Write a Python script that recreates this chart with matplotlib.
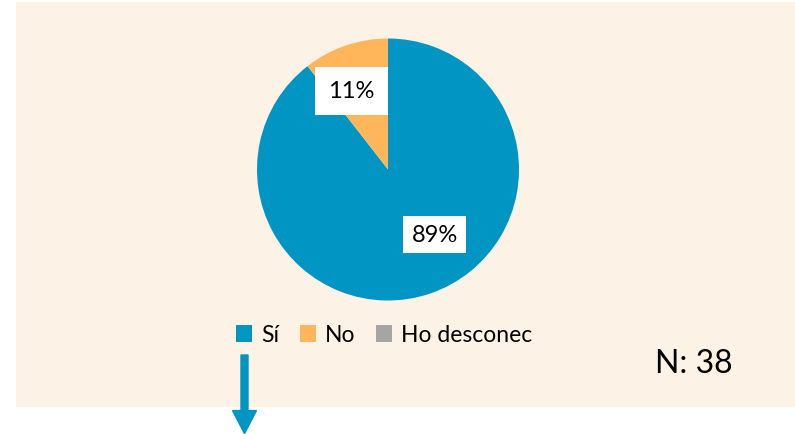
import matplotlib.pyplot as plt
from matplotlib.patches import Rectangle, Patch, FancyArrow

# data
categories = ['Sí', 'No', 'Ho desconec']
counts = [34, 4, 0]
colors = ['#0095C3', '#FFB55A', '#A5A5A5']
n_total = 38

plt.rcParams['font.family'] = ['Lato', 'DejaVu Sans']

W, H = 795, 435
fig = plt.figure(figsize=(W / 100, H / 100), dpi=100)

# beige panel
fig.patches.append(Rectangle((16 / W, 1 - 408 / H), 1 - 16 / W, 405 / H,
                             transform=fig.transFigure, facecolor='#FDF2E6',
                             edgecolor='none', zorder=-5))

cx, cy, r = 388, 170.5, 131
ax = fig.add_axes([(cx - r) / W, 1 - (cy + r) / H, 2 * r / W, 2 * r / H])
ax.set_facecolor('none')
ax.set_zorder(2)

wedges, texts, autotexts = ax.pie(
    counts, colors=colors, startangle=90, counterclock=False,
    autopct=lambda p: '' if p == 0 else '%d%%' % round(p),
    pctdistance=0.65, radius=1,
    textprops=dict(fontsize=17, color='black'))
ax.set_xlim(-1, 1)
ax.set_ylim(-1, 1)
ax.set_aspect('equal')

# label positions as in the reference (best-fit style)
label_pos = {0: (0.355, -0.496), 1: (-0.279, 0.60)}
label_pad = {0: 6, 1: 9.5}
for i, t in enumerate(autotexts):
    if t.get_text():
        t.set_position(label_pos[i])
        t.set_bbox(dict(facecolor='white', edgecolor='none', pad=label_pad[i]))

handles = [Patch(facecolor=c, edgecolor='none') for c in colors]
fig.legend(handles, categories, loc='center', ncol=3,
           bbox_to_anchor=(384 / W, 1 - 336 / H), frameon=False,
           fontsize=16.5, handlelength=0.7, handleheight=0.7,
           handletextpad=0.4, columnspacing=0.9)

fig.text(655 / W, 1 - 364 / H, 'N: %d' % n_total, fontsize=23,
         va='center', ha='left')

# arrow
fig.patches.append(FancyArrow(
    244.5 / W, 1 - 356 / H, 0, -(435 - 356) / H + 0.001,
    width=7 / W, head_width=24 / W, head_length=23 / H,
    length_includes_head=True, transform=fig.transFigure,
    color='#0095C3', zorder=5))

fig.savefig('out.png', dpi=100)
